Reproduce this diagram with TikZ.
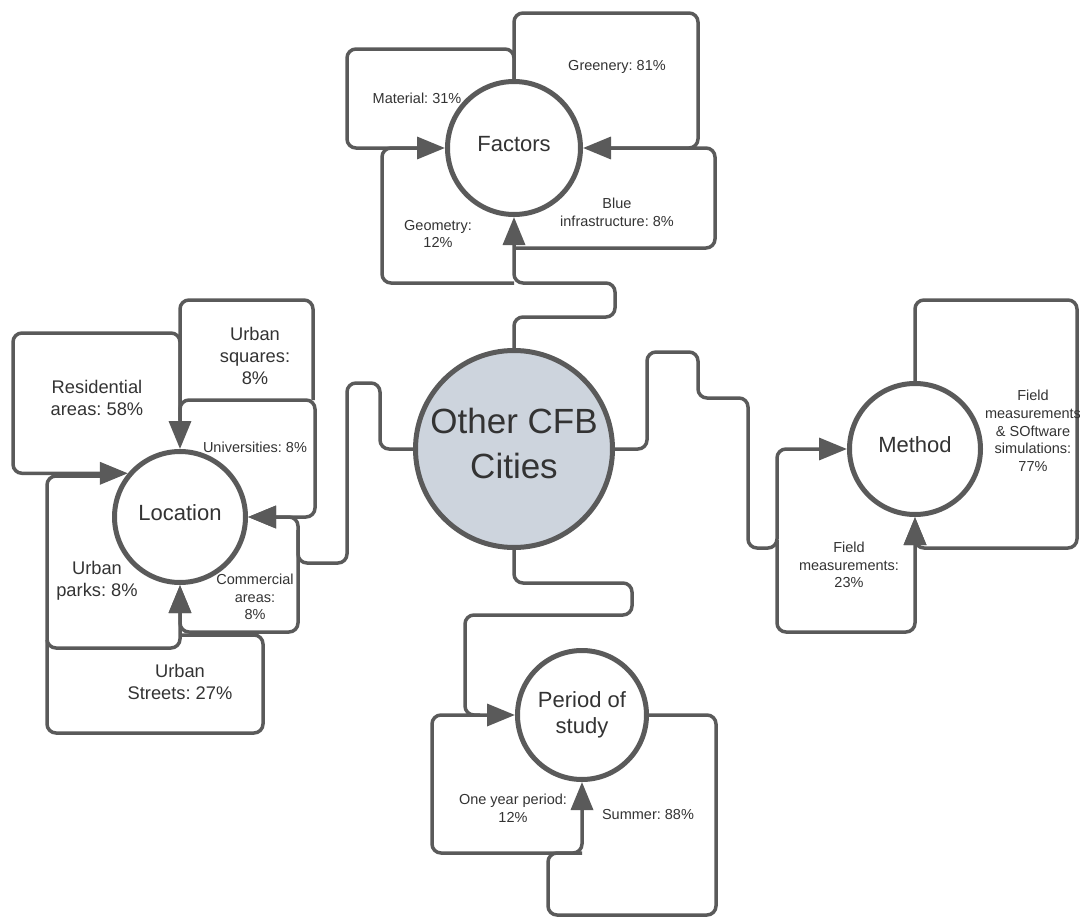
\documentclass[tikz,border=0pt]{standalone}
\usepackage{fontspec}
\setmainfont{Liberation Sans}
\frenchspacing
\usetikzlibrary{arrows.meta}

\definecolor{linegray}{HTML}{5A5A5A}
\definecolor{hubfill}{HTML}{CDD4DD}
\definecolor{textgray}{HTML}{333333}

\tikzset{
  hub/.style={circle, draw=linegray, line width=5pt, inner sep=0pt, align=center,
    text=textgray, fill=white, font=\fontsize{22}{26}\selectfont, text depth=8pt},
  conn/.style={draw=linegray, line width=3.5pt, rounded corners=9pt},
  arrowtip/.style={-{Triangle[length=28pt,width=22pt]}},
  smalltext/.style={font=\fontsize{14.5}{17.75}\selectfont, align=center, text=textgray},
  bigtext/.style={font=\fontsize{18.3}{22.3}\selectfont, align=center, text=textgray},
}

\begin{document}
\begin{tikzpicture}[x=1pt, y=-1pt]
  % Fix the page to the size of the reference
  \useasboundingbox (0,0) rectangle (1080,918);

  % Draw the hub circles
  \node[hub, fill=hubfill, minimum size=197pt, font=\fontsize{35}{45}\selectfont, text depth=12pt] (cfb) at (514,449) {Other CFB\\Cities};
  \node[hub, minimum size=133pt] (fac) at (514,148) {Factors};
  \node[hub, minimum size=131pt] (loc) at (180,517) {Location};
  \node[hub, minimum size=131pt] (met) at (915,449) {Method};
  \node[hub, minimum size=129pt, text depth=5pt] (per) at (582,715) {Period of\\study};

  % Factors branch
  \coordinate (ftrunk) at (514,283);
  \draw[conn, arrowtip] (cfb.north) |- (615,317) |- (ftrunk) -- (fac.south);
  \draw[conn, arrowtip] (fac.north) |- (347,49) |- (fac.west);
  \draw[conn, arrowtip] (fac.north) |- (698,13) |- (fac.east);
  \draw[conn] (ftrunk) -| (382,148) -- (420,148);
  \draw[conn] (514,248) -| (715,148) -- (610,148);

  % Location branch
  \draw[conn, arrowtip] (cfb.west) -| (380,383) -| (347,563) -| (298,517) -- (loc.east);
  \draw[conn, arrowtip] (298,530) |- (180,632) -- (loc.south);
  \draw[conn, arrowtip] (100,476) -| (47,648) -| (loc.south);
  \draw[conn] (47,640) |- (263,733) |- (180,635);
  \draw[conn, arrowtip] (180,420) |- (13,333) |- (loc.140);
  \draw[conn, arrowtip] (313,400) |- (180,300) -- (loc.north);
  \draw[conn, arrowtip] (180,430) |- (315,400) |- (loc.east);

  % Method branch
  \draw[conn, arrowtip] (cfb.east) -| (647,352) -| (698,398) -| (748,548) -| (777,449) -- (met.west);
  \draw[conn, arrowtip] (777,540) |- (915,632) -- (met.south);
  \draw[conn, arrowtip] (met.north) |- (1077,300) |- (915,548) -- (met.south);

  % Period branch
  \draw[conn, arrowtip] (cfb.south) |- (632,583) |- (465,615) |- (per.west);
  \draw[conn, arrowtip] (480,715) -| (432,853) -| (per.south);
  \draw[conn] (per.east) -| (716,915) -| (548,853) -- (582,853);

  % Add labels for the shares
  \node[smalltext] (mat) at (417,98) {Material: 31\%};
  \node[smalltext] (gre) at (617,67) {Greenery: 81\%};
  \node[smalltext] (geo) at (438,234) {Geometry:\\12\%};
  \node[smalltext] (blu) at (617,212) {Blue\\infrastructure: 8\%};
  \node[bigtext] (res) at (97,398) {Residential\\areas: 58\%};
  \node[bigtext] (squ) at (255,356) {Urban\\squares:\\8\%};
  \node[smalltext] (uni) at (255,447) {Universities: 8\%};
  \node[bigtext] (par) at (97,581) {Urban\\parks: 8\%};
  \node[smalltext] (com) at (255,597) {Commercial\\areas:\\8\%};
  \node[bigtext] (str) at (180,682) {Urban\\Streets: 27\%};
  \node[smalltext] (fsw) at (1033,431) {Field\\measurements\\\& SOftware\\simulations:\\77\%};
  \node[smalltext] (fme) at (849,565) {Field\\measurements:\\23\%};
  \node[smalltext] (one) at (513,808) {One year period:\\12\%};
  \node[smalltext] (sum) at (648,815) {Summer: 88\%};

\end{tikzpicture}
\end{document}
